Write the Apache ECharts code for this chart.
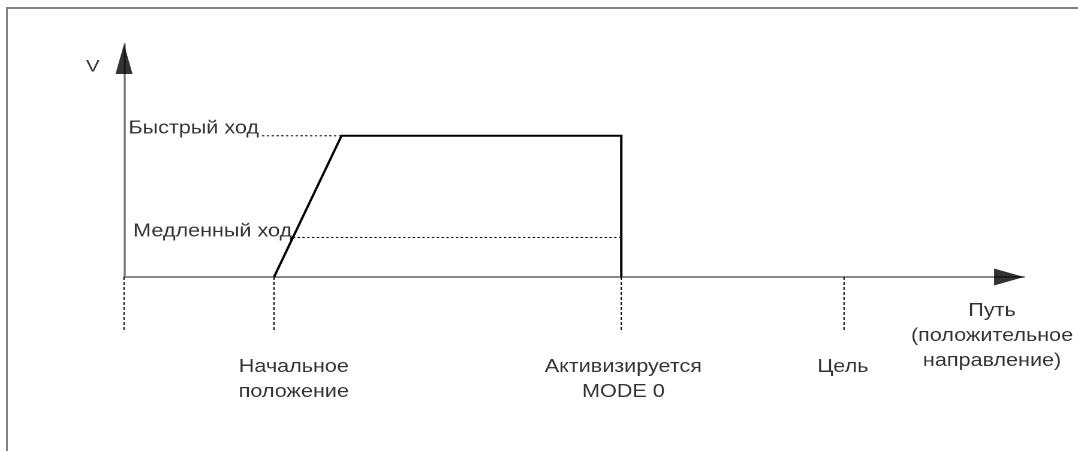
<!DOCTYPE html>
<html>
<head>
<meta charset="utf-8">
<script src="https://cdn.jsdelivr.net/npm/echarts@6/dist/echarts.min.js"></script>
<style>
  html, body { margin: 0; padding: 0; background: #fff; overflow: hidden; }
  body { width: 1078px; height: 451px; position: relative; }
  #frame {
    position: absolute; left: 6px; top: 7px; width: 1200px; height: 600px;
    border-left: 2px solid #828282; border-top: 2px solid #828282;
  }
  #chart {
    position: absolute; left: 0; top: 0; width: 899px; height: 451px;
    transform: scaleX(1.1991); transform-origin: 0 0;
  }
</style>
</head>
<body>
<div id="frame"></div>
<div id="chart"></div>
<script>
// Path axis (horizontal) and speed axis (vertical) ranges, arbitrary units
const pathRange = [0, 120];
const speedRange = [0, 165];

// Speed profile: ramp from the start position up to rapid speed, hold, drop at MODE 0
const profilePath = [20, 29, 66.3, 66.3];
const profileSpeed = [0, 100, 100, 0];

// Speed levels with their dotted guides
const levelNames = ['Быстрый ход', 'Медленный ход'];
const levelSpeeds = [100, 28];
const levelGuideFrom = [18.4, 22.5];
const levelGuideTo = [29, 66.3];

// Marked positions on the path axis
const markerPath = [0, 20, 66.3, 96];
const markerDrop = -39;
const markerNames = ['', 'Начальное\nположение', 'Активизируется\nMODE 0', 'Цель'];

const pathAxisName = 'Путь\n(положительное\nнаправление)';
const speedAxisName = 'V';

// ---- option building ----
const FONT = '"Liberation Sans", Arial, sans-serif';
const baseText = { color: '#000', fontFamily: FONT, fontSize: 18, lineHeight: 25 };
const markerNudge = [0, 16.5, 1.7, -1];

const textItems = [];
levelNames.forEach((name, i) => {
  textItems.push({
    value: [levelGuideFrom[i], levelSpeeds[i]],
    label: Object.assign({}, baseText, {
      show: true, formatter: name, position: 'left',
      distance: i === 0 ? 2 : 0, offset: [0, i === 0 ? -7.5 : -6]
    })
  });
});
markerNames.forEach((name, i) => {
  if (!name) return;
  textItems.push({
    value: [markerPath[i], 0],
    label: Object.assign({}, baseText, {
      show: true, formatter: name, position: 'bottom', align: 'center',
      distance: 77, offset: [markerNudge[i], 0]
    })
  });
});
textItems.push({
  value: [pathRange[1], 0],
  label: Object.assign({}, baseText, {
    show: true, formatter: pathAxisName, position: 'bottom', align: 'center',
    distance: 21, offset: [-26.7, 0]
  })
});
textItems.push({
  value: [0, speedRange[1]],
  label: Object.assign({}, baseText, {
    show: true, formatter: speedAxisName, position: 'inside',
    fontSize: 17, offset: [-26, 23]
  })
});

const dotted = { color: '#000', width: 1, type: [2, 2] };

const series = [];

// horizontal guides for speed levels
levelNames.forEach((name, i) => {
  series.push({
    type: 'line', name: name + ' guide', symbol: 'none', silent: true, z: 2,
    lineStyle: dotted,
    data: [[levelGuideFrom[i], levelSpeeds[i]], [levelGuideTo[i], levelSpeeds[i]]]
  });
});

// vertical dotted markers below the path axis
markerPath.forEach((p, i) => {
  series.push({
    type: 'line', name: 'marker ' + i, symbol: 'none', silent: true, clip: false, z: 2,
    lineStyle: { color: '#000', width: 1, type: [3, 2] },
    data: [[p, 0], [p, markerDrop]]
  });
});

// speed profile
series.push({
  type: 'line', name: 'profile', symbol: 'none', silent: true, z: 5,
  lineStyle: { color: '#000', width: 2, join: 'miter' },
  data: profilePath.map((p, i) => [p, profileSpeed[i]])
});

// axis arrowheads
series.push({
  type: 'scatter', name: 'path arrow', silent: true, clip: false, z: 6,
  symbol: 'triangle', symbolRotate: -90, symbolSize: [17, 25], symbolOffset: [-12.5, 0],
  itemStyle: { color: '#000' },
  data: [[pathRange[1], 0]]
});
series.push({
  type: 'scatter', name: 'speed arrow', silent: true, clip: false, z: 6,
  symbol: 'triangle', symbolSize: [14.2, 30], symbolOffset: [0, 15],
  itemStyle: { color: '#000' },
  data: [[0, speedRange[1]]]
});

// texts
series.push({
  type: 'scatter', name: 'texts', silent: true, clip: false, z: 7,
  symbol: 'circle', symbolSize: 1, itemStyle: { color: 'rgba(0,0,0,0)' },
  data: textItems
});

const axisCommon = {
  type: 'value',
  axisLine: { show: true, lineStyle: { color: '#7a7a7a', width: 1.8 } },
  axisTick: { show: false },
  axisLabel: { show: false },
  splitLine: { show: false }
};

const chart = echarts.init(document.getElementById('chart'), null, { devicePixelRatio: 2 });
chart.setOption({
  animation: false,
  backgroundColor: 'transparent',
  grid: { left: 103.42, width: 750.6, top: 44, height: 233 },
  xAxis: Object.assign({}, axisCommon, { min: pathRange[0], max: pathRange[1] }),
  yAxis: Object.assign({}, axisCommon, { min: speedRange[0], max: speedRange[1] }),
  series: series
});
</script>
</body>
</html>
